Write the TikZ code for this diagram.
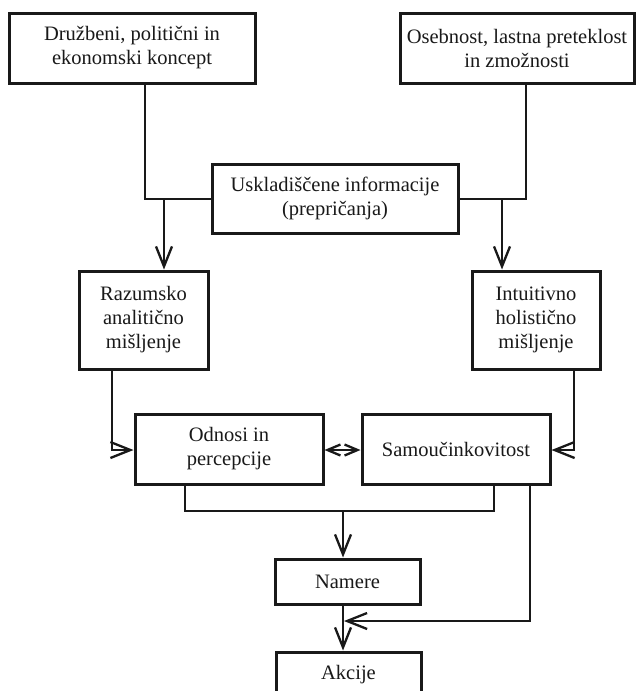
\documentclass[tikz,border=0pt]{standalone}
\usepackage{fontspec}
\setmainfont{Liberation Serif}
\usetikzlibrary{arrows.meta}
\tikzset{
  box/.style={draw=black!90, line width=3pt, fill=white, align=center,
    inner sep=0pt, text=black!90, font=\fontsize{20.5}{24}\selectfont},
  conn/.style={draw=black!90, line width=2.3pt},
  arr/.style={conn, -{Straight Barb[length=20pt,width=16pt,line width=2.3pt]}},
  darr/.style={conn, {Straight Barb[length=13pt,width=11pt,line width=2.3pt]}-{Straight Barb[length=13pt,width=11pt,line width=2.3pt]}}
}
\begin{document}
\begin{tikzpicture}[x=1pt,y=-1pt]
\clip (0,0) rectangle (636,691);
\useasboundingbox (0,0) rectangle (636,691);
\fill[white] (0,0) rectangle (636,691);

% boxes
\node[box, minimum width=246, minimum height=70] (b1) at (132,48) {Družbeni, politični in\\ekonomski koncept};
\node[box, minimum width=234, minimum height=70] (b2) at (517,48) {Osebnost, lastna preteklost\\in zmožnosti};
\node[box, minimum width=246, minimum height=69] (us) at (335,198.5) {Uskladiščene informacije\\(prepričanja)};
\node[box, minimum width=129, minimum height=98] (raz) at (143.5,320) {Razumsko\\analitično\\mišljenje};
\node[box, minimum width=128, minimum height=98] (int) at (536,320) {Intuitivno\\holistično\\mišljenje};
\node[box, minimum width=188, minimum height=70] (odn) at (229,449) {Odnosi in\\percepcije};
\node[box, minimum width=188, minimum height=70] (sam) at (456,449) {Samoučinkovitost};
\node[box, minimum width=145, minimum height=45] (nam) at (347.5,581.5) {Namere};
\node[box, minimum width=145, minimum height=45] (akc) at (348.5,674.5) {Akcije};

% junction points
\coordinate (c1) at (145,199);
\coordinate (j1) at (164,199);
\coordinate (c2) at (526,199);
\coordinate (j2) at (502,199);
\coordinate (c3) at (112,450);
\coordinate (c4) at (574,450);
\coordinate (c5) at (185,511);
\coordinate (c6) at (494,511);
\coordinate (j3) at (343,511);
\coordinate (c7) at (530,621);
\coordinate (j4) at (344,621);

% upper inputs merging with stored information
\draw[conn] (b1.south -| c1) -- (c1) -- (c1 -| us.west);
\draw[arr] (j1) -- (j1 |- raz.north);
\draw[conn] (b2.south -| c2) -- (c2) -- (c2 -| us.east);
\draw[arr] (j2) -- (j2 |- int.north);

% thinking styles into the middle row
\draw[arr] (raz.south -| c3) -- (c3) -- (c3 -| odn.west);
\draw[arr] (int.south -| c4) -- (c4) -- (c4 -| sam.east);
\draw[darr] (odn.east |- c3) -- (sam.west |- c3);

% towards intentions and actions
\draw[conn] (odn.south -| c5) -- (c5) -- (c6) -- (sam.south -| c6);
\draw[arr] (j3) -- (j3 |- nam.north);
\draw[arr] (j3 |- nam.south) -- (j3 |- akc.north);
\draw[arr] (sam.south -| c7) -- (c7) -- (j4);
\end{tikzpicture}
\end{document}
